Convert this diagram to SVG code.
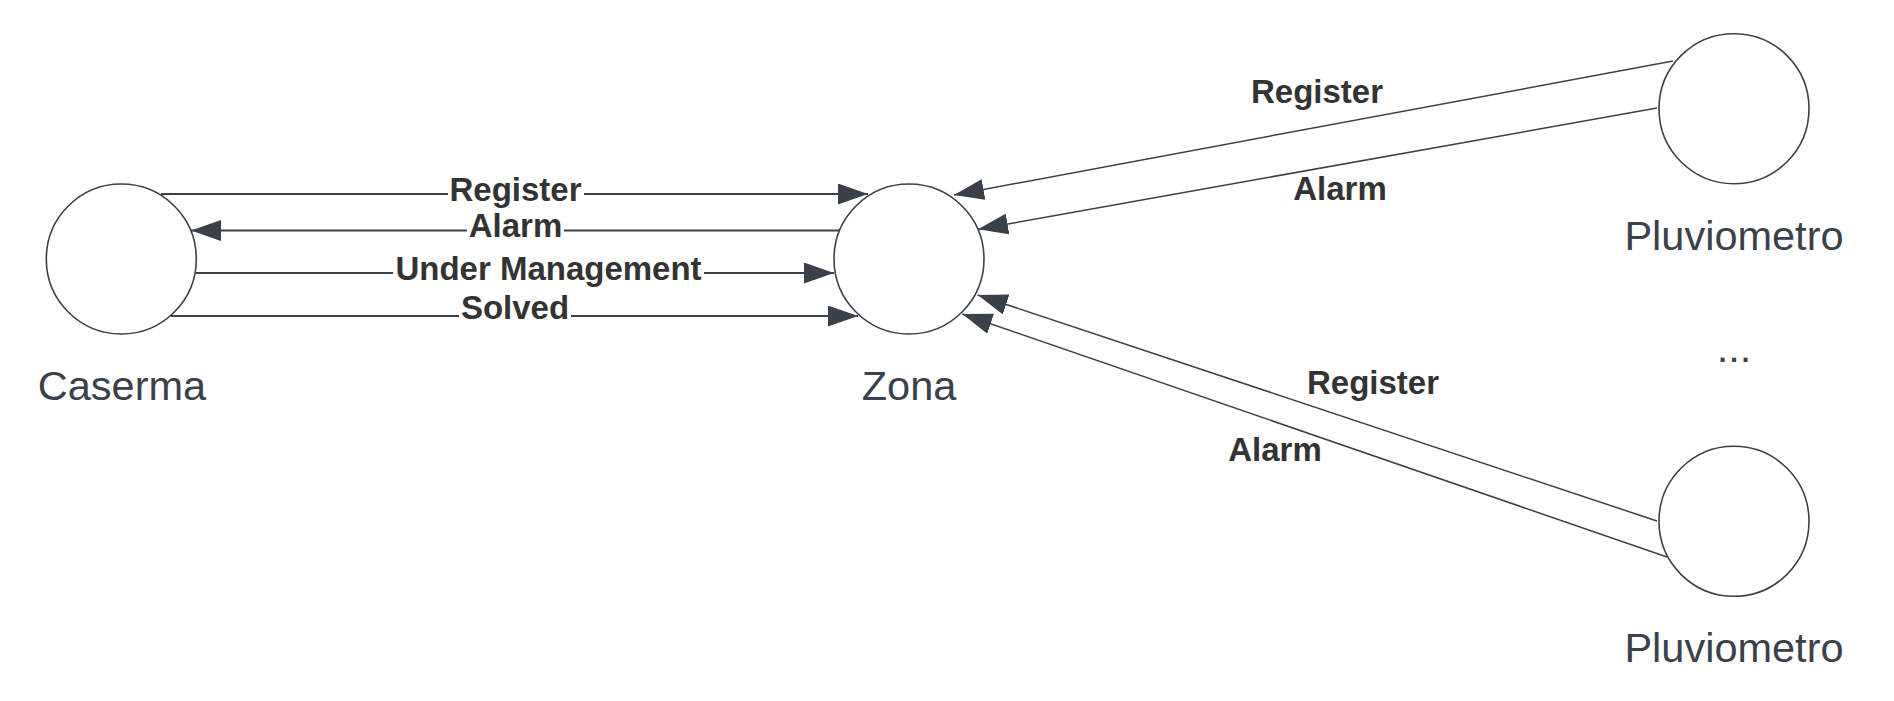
<svg xmlns="http://www.w3.org/2000/svg" width="1894" height="701" viewBox="0 0 1894 701">
<defs>
<style>
.node{fill:#ffffff;stroke:#3a414a;stroke-width:1.6}
.nlabel{font-family:"Liberation Sans",Arial,sans-serif;font-size:41.5px;fill:#3a414a;text-anchor:middle}
.elabel{font-family:"Liberation Sans",Arial,sans-serif;font-size:33px;font-weight:bold;fill:#333333;text-anchor:middle}
.h{stroke:#3a414a;stroke-width:2;fill:none;marker-end:url(#arr)}
.d{stroke:#3a414a;stroke-width:1.5;fill:none;marker-end:url(#arr)}
.bg{fill:#ffffff}
</style>
<marker id="arr" markerUnits="userSpaceOnUse" markerWidth="32" markerHeight="24" refX="30" refY="10.5" orient="auto">
<path d="M0,0 L30,10.5 L0,21 Z" fill="#3a414a"/>
</marker>
</defs>
<rect width="1894" height="701" fill="#ffffff"/>
<g id="connectors">
<line class="h" x1="161" y1="194" x2="868" y2="194"/>
<line class="h" x1="839" y1="230.5" x2="191" y2="230.5"/>
<line class="h" x1="196" y1="273" x2="834" y2="273"/>
<line class="h" x1="171" y1="316" x2="858" y2="316"/>
<line class="d" x1="1673" y1="61" x2="954" y2="195"/>
<line class="d" x1="1657" y1="108" x2="978" y2="229.3"/>
<line class="d" x1="1657" y1="521" x2="977.7" y2="295"/>
<line class="d" x1="1667" y1="557" x2="962.3" y2="314"/>
<rect class="bg" x="448" y="190" width="136" height="8"/>
<rect class="bg" x="467" y="226.5" width="97" height="8"/>
<rect class="bg" x="393" y="269" width="311" height="8"/>
<rect class="bg" x="459" y="312" width="112" height="8"/>
<text class="elabel" x="515.5" y="200.7">Register</text>
<text class="elabel" x="515.5" y="236.7">Alarm</text>
<text class="elabel" x="548.5" y="280">Under Management</text>
<text class="elabel" x="515" y="319">Solved</text>
<text class="elabel" x="1317" y="103.3">Register</text>
<text class="elabel" x="1340" y="200">Alarm</text>
<text class="elabel" x="1373" y="394">Register</text>
<text class="elabel" x="1275" y="460.7">Alarm</text>
</g>
<g id="caserma">
<circle class="node" cx="121.3" cy="259" r="75"/>
<text class="nlabel" x="122" y="400">Caserma</text>
</g>
<g id="zona">
<circle class="node" cx="909" cy="259" r="75"/>
<text class="nlabel" x="909" y="400">Zona</text>
</g>
<g id="pluviometro1">
<circle class="node" cx="1734" cy="108.7" r="75"/>
<text class="nlabel" x="1734" y="250">Pluviometro</text>
</g>
<g id="ellipsis">
<text class="nlabel" x="1734" y="362">...</text>
</g>
<g id="pluviometro2">
<circle class="node" cx="1734" cy="521.3" r="75"/>
<text class="nlabel" x="1734" y="662">Pluviometro</text>
</g>
</svg>
